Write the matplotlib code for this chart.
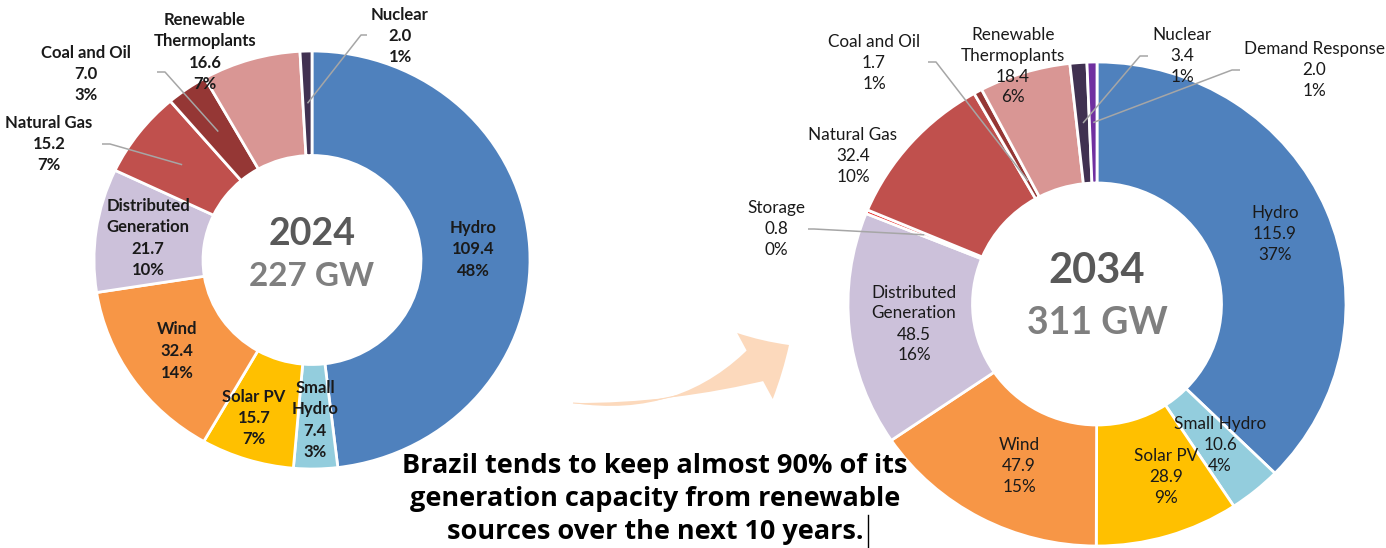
import numpy as np
import matplotlib.pyplot as plt
from matplotlib.patches import FancyArrowPatch

W, H = 1386, 548
FONT = ['Lato', 'DejaVu Sans']

# ---------------------------
# DATA (GW), clockwise from 12 o'clock
# ---------------------------
names_2024 = ["Hydro", "Small\nHydro", "Solar PV", "Wind", "Distributed\nGeneration",
              "Natural Gas", "Coal and Oil", "Renewable\nThermoplants", "Nuclear"]
gw_2024 = [109.4, 7.4, 15.7, 32.4, 21.7, 15.2, 7.0, 16.6, 2.0]
pct_2024 = ["48%", "3%", "7%", "14%", "10%", "7%", "3%", "7%", "1%"]
total_2024 = "227 GW"

names_2034 = ["Hydro", "Small Hydro", "Solar PV", "Wind", "Distributed\nGeneration", "Storage",
              "Natural Gas", "Coal and Oil", "Renewable\nThermoplants", "Nuclear", "Demand Response"]
gw_2034 = [115.9, 10.6, 28.9, 47.9, 48.5, 0.8, 32.4, 1.7, 18.4, 3.4, 2.0]
pct_2034 = ["37%", "4%", "9%", "15%", "16%", "0%", "10%", "1%", "6%", "1%", "1%"]
total_2034 = "311 GW"

colors = {
    "Hydro": "#4F81BD", "Small Hydro": "#93CDDD", "Solar PV": "#FFC000", "Wind": "#F79646",
    "Distributed Generation": "#CCC1DA", "Storage": "#E8322E", "Natural Gas": "#C0504D",
    "Coal and Oil": "#953735", "Renewable Thermoplants": "#D99694", "Nuclear": "#403151",
    "Demand Response": "#7030A0",
}

caption = ["Brazil tends to keep almost 90% of its",
           "generation capacity from renewable",
           "sources over the next 10 years."]

# ---------------------------
# LAYOUT (pixel coords, y down)
# ---------------------------
geo_2024 = dict(cx=312, cy=260, rx=218, ry=209)
geo_2034 = dict(cx=1097, cy=304, rx=249, ry=242)

label_pos_2024 = [(473, 249), (315, 420), (254, 418), (177, 351), (148, 238),
                  (49, 144), (86, 74), (205, 52), (400, 36)]
label_pos_2034 = [(1275, 234), (1220, 445), (1166, 477), (1019, 466), (914, 324), (776, 229),
                  (853, 156), (874, 63), (1013, 66), (1182, 56), (1314, 70)]

# (slice index, label-side start, elbow, radius on ring)
leaders_2024 = [(5, (102, 144), (110, 144), 0.75),
                (6, (157, 72), (165, 72), 0.75),
                (8, (367, 35), (361, 35), 0.75)]
leaders_2034 = [(5, (808, 229), (814, 229), 0.75),
                (7, (928, 62), (936, 62), 0.58),
                (9, (1148, 56), (1140, 56), 0.75),
                (10, (1240, 70), (1232, 70), 0.75)]

fig = plt.figure(figsize=(W / 100, H / 100), dpi=100)


def donut(names, values, geo):
    cx, cy, rx, ry = geo["cx"], geo["cy"], geo["rx"], geo["ry"]
    ax = fig.add_axes([(cx - rx) / W, (H - cy - ry) / H, 2 * rx / W, 2 * ry / H])
    cols = [colors[n.replace("\n", " ")] for n in names]
    wedges, _ = ax.pie(values, colors=cols, startangle=90, counterclock=False, radius=1,
                       wedgeprops=dict(width=0.5, edgecolor="white", linewidth=2))
    for w in wedges:
        w.set_clip_on(False)
    ax.set_aspect("auto")
    ax.set_xlim(-1, 1)
    ax.set_ylim(-1, 1)
    ax.axis("off")
    return wedges


wedges_2024 = donut(names_2024, gw_2024, geo_2024)
wedges_2034 = donut(names_2034, gw_2034, geo_2034)

# overlay axes in pixel coordinates for labels, leaders, arrow, caption
ov = fig.add_axes([0, 0, 1, 1])
ov.set_xlim(0, W)
ov.set_ylim(H, 0)
ov.axis("off")
ov.patch.set_visible(False)


def ring_point(wedge, r, geo):
    ang = np.deg2rad((wedge.theta1 + wedge.theta2) / 2)
    return geo["cx"] + r * geo["rx"] * np.cos(ang), geo["cy"] - r * geo["ry"] * np.sin(ang)


def add_labels(names, values, pcts, pos, weight, size, step):
    # one text per line so the line pitch matches the reference
    for n, v, p, (x, y) in zip(names, values, pcts, pos):
        lines = n.split("\n") + [f"{v:.1f}", p]
        y0 = y - step * (len(lines) - 1) / 2
        for k, line in enumerate(lines):
            ov.text(x, y0 + k * step, line, ha="center", va="center", fontsize=size,
                    fontweight=weight, family=FONT, color="#1a1a1a")


def add_leaders(wedges, leaders, geo):
    for idx, start, elbow, r in leaders:
        end = ring_point(wedges[idx], r, geo)
        ov.plot([start[0], elbow[0], end[0]], [start[1], elbow[1], end[1]],
                color="#A6A6A6", lw=1.1, solid_capstyle="butt")


add_leaders(wedges_2024, leaders_2024, geo_2024)
add_leaders(wedges_2034, leaders_2034, geo_2034)
add_labels(names_2024, gw_2024, pct_2024, label_pos_2024, "bold", 12, 21.5)
add_labels(names_2034, gw_2034, pct_2034, label_pos_2034, "normal", 12.3, 21)

# center texts
ov.text(geo_2024["cx"], 234, "2024", ha="center", va="center", fontsize=27,
        fontweight="bold", family=FONT, color="#595959")
ov.text(geo_2024["cx"], 276, total_2024, ha="center", va="center", fontsize=24,
        fontweight="bold", family=FONT, color="#7F7F7F")
ov.text(geo_2034["cx"], 271, "2034", ha="center", va="center", fontsize=30,
        fontweight="bold", family=FONT, color="#595959")
ov.text(geo_2034["cx"], 323, total_2034, ha="center", va="center", fontsize=27,
        fontweight="bold", family=FONT, color="#7F7F7F")

# curved arrow between the two years: tapered body + head on the same arc
tail, tip = (573, 403), (789, 345)
arrow_col = "#FCD9BC"
body = FancyArrowPatch(tip, tail, connectionstyle="arc3,rad=-0.18",
                       arrowstyle="wedge,tail_width=0.8,shrink_factor=0.02",
                       mutation_scale=36, color=arrow_col, lw=0, shrinkA=22, shrinkB=0)
head = FancyArrowPatch(tail, tip, connectionstyle="arc3,rad=0.18",
                       arrowstyle="simple,head_length=0.8,head_width=1.5,tail_width=0.02",
                       mutation_scale=36, color=arrow_col, lw=0, shrinkA=0, shrinkB=0)
ov.add_patch(body)
ov.add_patch(head)

# caption
for k, line in enumerate(caption):
    ov.text(655, 466 + 33 * k, line, ha="center", va="center", fontsize=19.5,
            fontweight="bold", family=['Open Sans', 'DejaVu Sans'], color="black")
ov.plot([868, 868], [515, 547], color="black", lw=1)

fig.savefig("out.png", dpi=100, facecolor="white")
